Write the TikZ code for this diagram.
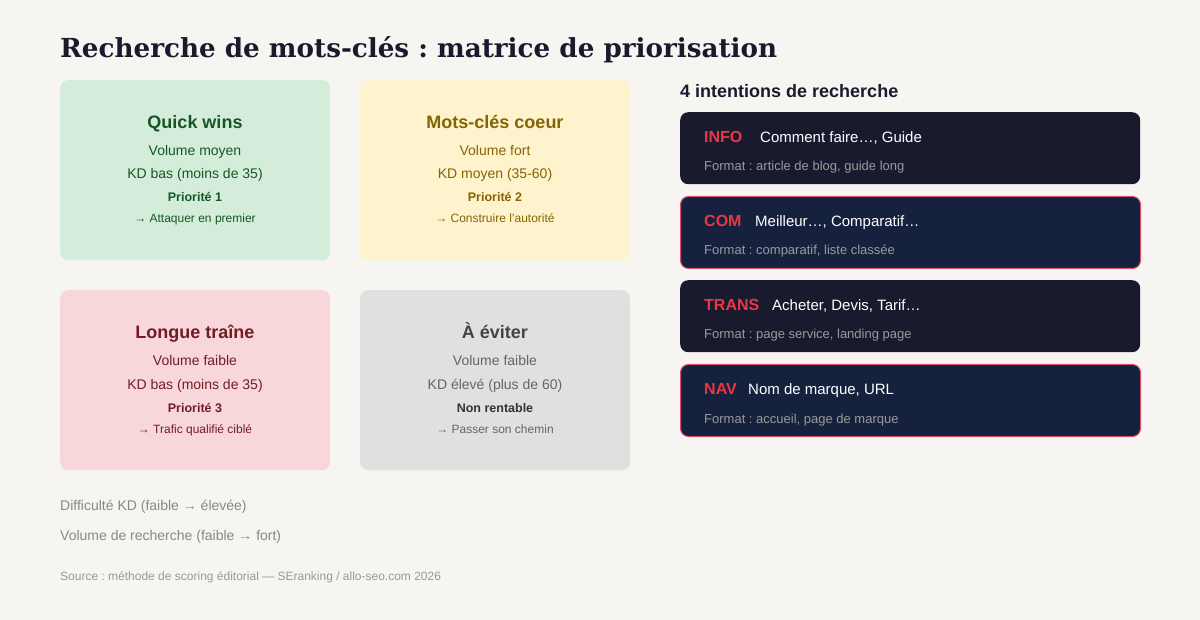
\documentclass[tikz,border=0pt]{standalone}
\usepackage{fontspec}
\setmainfont{Liberation Sans}
\newfontfamily\titlefont{DejaVu Serif}
\frenchspacing
\definecolor{bg}{HTML}{F7F5F1}
\definecolor{qwfill}{HTML}{D4EDDA}
\definecolor{qwtext}{HTML}{155724}
\definecolor{mcfill}{HTML}{FFF3CD}
\definecolor{mctext}{HTML}{856404}
\definecolor{ltfill}{HTML}{F8D7DA}
\definecolor{lttext}{HTML}{721C24}
\definecolor{aefill}{HTML}{E0E0E0}
\definecolor{aetitle}{HTML}{444444}
\definecolor{aetext}{HTML}{666666}
\definecolor{aebold}{HTML}{333333}
\definecolor{dark}{HTML}{1A1A2E}
\definecolor{navy}{HTML}{16213E}
\definecolor{accent}{HTML}{E63946}
\definecolor{bord}{HTML}{D9506A}
\definecolor{fmt}{HTML}{9A9A9A}
\definecolor{axis}{HTML}{888888}
\definecolor{src}{HTML}{999999}
\tikzset{
  quad/.style={rounded corners=8pt, draw=none, minimum width=270pt, minimum height=180pt, anchor=north west, inner sep=0pt},
  intent/.style={rounded corners=8pt, minimum width=460pt, minimum height=72pt, anchor=north west, inner sep=0pt},
  dkbox/.style={intent, fill=dark},
  nvbox/.style={intent, fill=navy, draw=bord, line width=1pt},
  qtitle/.style={font=\fontsize{18}{20}\selectfont\bfseries, anchor=base},
  qline/.style={font=\fontsize{14}{16}\selectfont, anchor=base},
  qprio/.style={font=\fontsize{12.5}{14}\selectfont\bfseries, anchor=base},
  qact/.style={font=\fontsize{12}{14}\selectfont, anchor=base},
  ilabel/.style={font=\fontsize{16}{18}\selectfont\bfseries, text=accent, anchor=base west, inner sep=0pt},
  itext/.style={font=\fontsize{15}{17}\selectfont, text=white, anchor=base west, inner sep=0pt},
  ifmt/.style={font=\fontsize{13}{15}\selectfont, text=fmt, anchor=base west, inner sep=0pt},
}
\begin{document}
\begin{tikzpicture}[x=1pt,y=-1pt]
\fill[bg] (0,0) rectangle (1200,620);
\useasboundingbox (0,0) rectangle (1200,620);
% title
\node[anchor=base west, inner sep=0pt, text=dark, font=\titlefont\fontsize{26.2}{30}\selectfont\bfseries] (title) at (60,58) {Recherche de mots-clés : matrice de priorisation};
% quadrants
\node[quad, fill=qwfill] (qw) at (60,80) {};
\node[quad, fill=mcfill] (mc) at (360,80) {};
\node[quad, fill=ltfill] (lt) at (60,290) {};
\node[quad, fill=aefill] (ae) at (360,290) {};
% QW
\node[qtitle, text=qwtext] (qw1) at (195,129) {Quick wins};
\node[qline, text=qwtext] (qw2) at (195,156) {Volume moyen};
\node[qline, text=qwtext] (qw3) at (195,179) {KD bas (moins de 35)};
\node[qprio, text=qwtext] (qw4) at (195,202) {Priorité 1};
\node[qact, text=qwtext] (qw5) at (195,223) {→ Attaquer en premier};
% MC
\node[qtitle, text=mctext] (mc1) at (495,129) {Mots-clés coeur};
\node[qline, text=mctext] (mc2) at (495,156) {Volume fort};
\node[qline, text=mctext] (mc3) at (495,179) {KD moyen (35-60)};
\node[qprio, text=mctext] (mc4) at (495,202) {Priorité 2};
\node[qact, text=mctext] (mc5) at (495,223) {→ Construire l'autorité};
% LT
\node[qtitle, text=lttext] (lt1) at (195,339) {Longue traîne};
\node[qline, text=lttext] (lt2) at (195,366) {Volume faible};
\node[qline, text=lttext] (lt3) at (195,389) {KD bas (moins de 35)};
\node[qprio, text=lttext] (lt4) at (195,412) {Priorité 3};
\node[qact, text=lttext] (lt5) at (195,433) {→ Trafic qualifié ciblé};
% AE
\node[qtitle, text=aetitle] (ae1) at (495,339) {À éviter};
\node[qline, text=aetext] (ae2) at (495,366) {Volume faible};
\node[qline, text=aetext] (ae3) at (495,389) {KD élevé (plus de 60)};
\node[qprio, text=aebold] (ae4) at (495,412) {Non rentable};
\node[qact, text=aetext] (ae5) at (495,433) {→ Passer son chemin};
% right panel
\node[anchor=base west, inner sep=0pt, text=dark, font=\fontsize{18}{20}\selectfont\bfseries] (ih) at (680,98) {4 intentions de recherche};
\node[dkbox] (b1) at (680,112) {};
\node[nvbox] (b2) at (680,196) {};
\node[dkbox] (b3) at (680,280) {};
\node[nvbox] (b4) at (680,364) {};
\node[ilabel] (l1) at (704,143) {INFO};
\node[itext] (t1) at (760,143) {Comment faire…, Guide};
\node[ifmt] (f1) at (704,171) {Format : article de blog, guide long};
\node[ilabel] (l2) at (704,227) {COM};
\node[itext] (t2) at (755,227) {Meilleur…, Comparatif…};
\node[ifmt] (f2) at (704,255) {Format : comparatif, liste classée};
\node[ilabel] (l3) at (704,311) {TRANS};
\node[itext] (t3) at (772,311) {Acheter, Devis, Tarif…};
\node[ifmt] (f3) at (704,339) {Format : page service, landing page};
\node[ilabel] (l4) at (704,395) {NAV};
\node[itext] (t4) at (748,395) {Nom de marque, URL};
\node[ifmt] (f4) at (704,423) {Format : accueil, page de marque};
% axes legend
\node[anchor=base west, inner sep=0pt, text=axis, font=\fontsize{14}{16}\selectfont] (ax1) at (60,510) {Difficulté KD (faible → élevée)};
\node[anchor=base west, inner sep=0pt, text=axis, font=\fontsize{14}{16}\selectfont] (ax2) at (60,540) {Volume de recherche (faible → fort)};
\node[anchor=base west, inner sep=0pt, text=src, font=\fontsize{12}{14}\selectfont] (srcn) at (60,580) {Source : méthode de scoring éditorial — SEranking / allo-seo.com 2026};
\end{tikzpicture}
\end{document}
